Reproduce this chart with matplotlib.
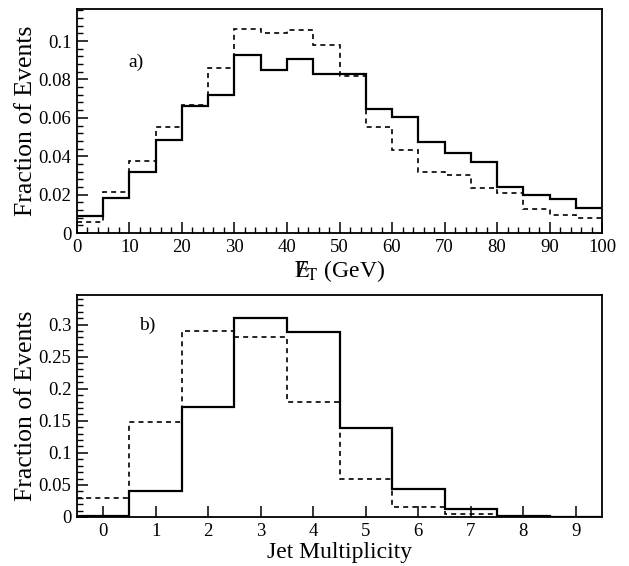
import matplotlib
matplotlib.use("Agg")
import matplotlib.pyplot as plt
import numpy as np
from matplotlib.ticker import MultipleLocator, FuncFormatter

plt.rcParams['font.family'] = ['Liberation Serif', 'DejaVu Serif']
plt.rcParams['mathtext.fontset'] = 'stix'

# panel a: missing E_T, 5 GeV bins
et_edges = np.arange(0, 105, 5)
et_solid = [0.0088, 0.0184, 0.0316, 0.0486, 0.066, 0.072, 0.0925, 0.085, 0.0904, 0.083,
            0.083, 0.0644, 0.0605, 0.0472, 0.0418, 0.0368, 0.024, 0.0196, 0.0175, 0.0132]
et_dashed = [0.0058, 0.0216, 0.0377, 0.055, 0.0667, 0.086, 0.1065, 0.1042, 0.106, 0.098,
             0.0818, 0.0553, 0.0435, 0.0319, 0.0302, 0.0235, 0.0207, 0.0125, 0.0096, 0.0079]

# panel b: jet multiplicity 0..9
jet_n = np.arange(10)
jet_solid = [0.002, 0.040, 0.171, 0.311, 0.2886, 0.138, 0.043, 0.012, 0.002, 0.0005]
jet_dashed = [0.0296, 0.1477, 0.2897, 0.2803, 0.180, 0.060, 0.0156, 0.004, 0.0005, 0.0]

fig = plt.figure(figsize=(6.29, 5.66), dpi=100)
ax1 = fig.add_axes([0.1224, 0.5883, 0.8347, 0.3958])
ax2 = fig.add_axes([0.1224, 0.0866, 0.8347, 0.392])

fmt = FuncFormatter(lambda v, p: '%g' % round(v, 4))

# --- a) ---
ax1.stairs(et_solid, et_edges, baseline=None, color='black', linewidth=1.6)
ax1.stairs(et_dashed, et_edges, baseline=None, color='black', linewidth=1.2,
           linestyle=(0, (3, 2.5)))
ax1.set_xlim(0, 100)
ax1.set_ylim(0, 0.1167)
ax1.xaxis.set_major_locator(MultipleLocator(10))
ax1.xaxis.set_minor_locator(MultipleLocator(2))
ax1.yaxis.set_major_locator(MultipleLocator(0.02))
ax1.yaxis.set_minor_locator(MultipleLocator(0.004))
ax1.yaxis.set_major_formatter(fmt)
ax1.text(0.097, 0.76, 'a)', transform=ax1.transAxes, fontsize=14, va='center')
ax1.set_xlabel(r'$\mathrm{E}\!\!\!\!/\,_{\mathrm{T}}$ (GeV)', fontsize=17, labelpad=2)
ax1.set_ylabel('Fraction of Events', fontsize=18.5, labelpad=1)

# --- b) ---
ax2.stairs(jet_solid, np.append(jet_n, 10) - 0.5, baseline=None, color='black', linewidth=1.6)
ax2.stairs(jet_dashed, np.append(jet_n, 10) - 0.5, baseline=None, color='black', linewidth=1.2,
           linestyle=(0, (3, 2.5)))
ax2.set_xlim(-0.5, 9.5)
ax2.set_ylim(0, 0.346)
ax2.set_xticks(jet_n)
ax2.yaxis.set_major_locator(MultipleLocator(0.05))
ax2.yaxis.set_minor_locator(MultipleLocator(0.01))
ax2.yaxis.set_major_formatter(fmt)
ax2.text(0.118, 0.865, 'b)', transform=ax2.transAxes, fontsize=14, va='center')
ax2.set_xlabel('Jet Multiplicity', fontsize=17, labelpad=2)
ax2.set_ylabel('Fraction of Events', fontsize=18.5, labelpad=1)

for ax in (ax1, ax2):
    for s in ax.spines.values():
        s.set_linewidth(1.3)
    ax.tick_params(which='major', direction='in', length=8, width=1.1, labelsize=13.5, pad=4)
    ax.tick_params(which='minor', direction='in', length=4, width=1.0)

fig.savefig('out.png', dpi=100)
